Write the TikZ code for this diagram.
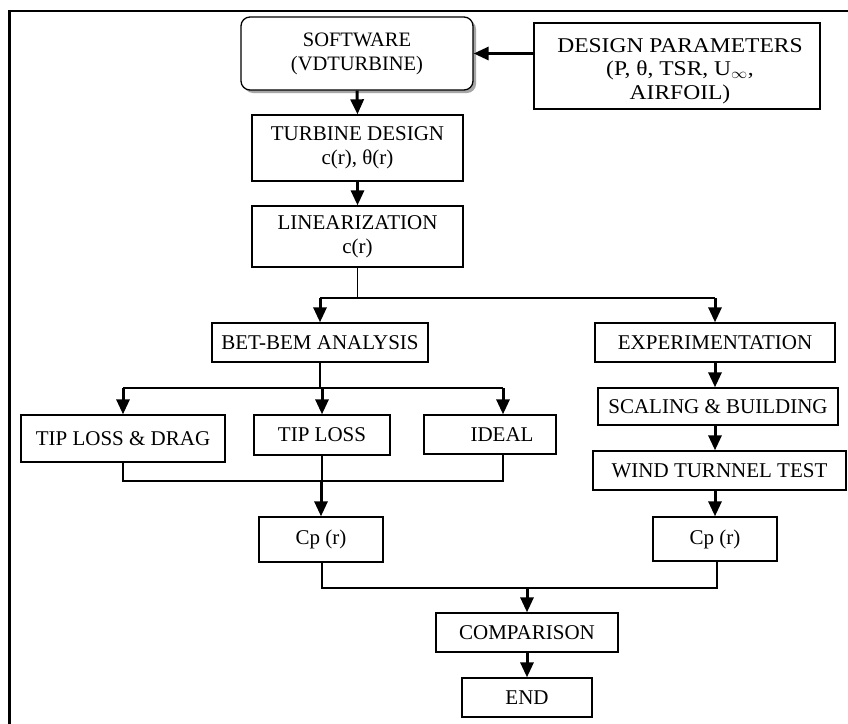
\documentclass[tikz,border=0pt]{standalone}
\usepackage{fontspec}
\setmainfont{Liberation Serif}
\usetikzlibrary{arrows.meta,shadows}
\tikzset{
  box/.style={draw=black, line width=1.3pt, rectangle, inner sep=0pt, align=center,
    font=\fontsize{21}{24}\selectfont},
  arr/.style={line width=3pt, -{Triangle[width=13pt,length=15pt]}},
  thinline/.style={line width=1.3pt},
  branchline/.style={line width=2pt},
}
\begin{document}
\begin{tikzpicture}[x=1pt,y=-1pt]
\useasboundingbox (0,0) rectangle (848,723);
\clip (0,0) rectangle (848,723);
\fill[white] (0,0) rectangle (848,723);
% frame
\draw[line width=2.5pt] (9.5,760) -- (9.5,11) -- (880,11);

% nodes
\node[box, rounded corners=9pt, minimum width=232pt, minimum height=73pt, fill=white,
      font=\fontsize{20.5}{24}\selectfont,
      drop shadow={shadow xshift=3pt, shadow yshift=-3pt, fill=gray!70, opacity=1}]
  (soft) at (357,53.5) {SOFTWARE\\(VDTURBINE)};
\node[box, minimum width=286pt, minimum height=86pt] (design) at (677,66) {};
\node[font=\fontsize{21}{23.5}\selectfont, align=center] (designtxt) at (680,71)
  {\scalebox{1.12}[1]{DESIGN PARAMETERS}\\\scalebox{1.12}[1]{(P, θ, TSR, U$_{\infty}$,}\\\scalebox{1.12}[1]{AIRFOIL)}};
\node[box, minimum width=211pt, minimum height=66pt] (turb) at (357.5,148) {TURBINE DESIGN\\c(r), θ(r)};
\node[box, minimum width=211pt, minimum height=61pt] (lin) at (357.5,236.5) {LINEARIZATION\\c(r)};
\node[box, minimum width=216pt, minimum height=39pt] (bet) at (320,342.5) {BET-BEM ANALYSIS};
\node[box, minimum width=240pt, minimum height=39pt] (exp) at (715,342.5) {EXPERIMENTATION};
\node[box, minimum width=240pt, minimum height=37pt] (scal) at (718,406.5) {SCALING \& BUILDING};
\node[box, minimum width=253pt, minimum height=39pt] (wind) at (719.5,470.5) {WIND TURNNEL TEST};
\node[box, minimum width=124pt, minimum height=44pt] (cpr) at (715,539) {Cp (r)};
\node[box, minimum width=204pt, minimum height=47pt] (tld) at (123,438.5) {TIP LOSS \& DRAG};
\node[box, minimum width=136pt, minimum height=40pt] (tl) at (322,435) {TIP LOSS};
\node[box, minimum width=132pt, minimum height=39pt, text width=132pt] (ideal) at (490,434.5) {\hspace*{24pt}IDEAL};
\node[box, minimum width=124pt, minimum height=45pt] (cpl) at (321,539.5) {Cp (r)};
\node[box, minimum width=182pt, minimum height=39pt] (comp) at (527,632.5) {COMPARISON};
\node[box, minimum width=130pt, minimum height=39pt] (end) at (527,697.5) {END};

% branch coordinates
\coordinate (br1) at (357.5,298);
\coordinate (br2) at (320,388);
\coordinate (mg1) at (321,481);
\coordinate (mg2) at (527,588);
\coordinate (idealin) at ([xshift=13pt]ideal.north);
\coordinate (idealout) at ([xshift=13pt]ideal.south);

% connectors
\draw[arr] (design.west |- soft.east) -- (soft.east);
\draw[arr] (soft.south) -- (turb.north);
\draw[arr] (turb.south) -- (lin.north);

\draw[thinline] (lin.south) -- (br1);
\draw[branchline] (bet.north |- br1) -- (exp.north |- br1);
\draw[arr] (bet.north |- br1) -- (bet.north);
\draw[arr] (exp.north |- br1) -- (exp.north);

\draw[thinline] (bet.south) -- (br2);
\draw[branchline] (tld.north |- br2) -- (idealin |- br2);
\draw[arr] (tld.north |- br2) -- (tld.north);
\draw[arr] (tl.north |- br2) -- (tl.north);
\draw[arr] (idealin |- br2) -- (idealin);

\draw[arr] (exp.south) -- (exp.south |- scal.north);
\draw[arr] (exp.south |- scal.south) -- (exp.south |- wind.north);
\draw[arr] (exp.south |- wind.south) -- (cpr.north);

\draw[thinline] (tld.south) -- (tld.south |- mg1) -- (idealout |- mg1) -- (idealout);
\draw[thinline] (tl.south) -- (tl.south |- mg1);
\draw[arr] (cpl.north |- mg1) -- (cpl.north);

\draw[thinline] ([xshift=1pt]cpl.south) -- ([xshift=1pt]cpl.south |- mg2) -- ([xshift=2pt]cpr.south |- mg2) -- ([xshift=2pt]cpr.south);
\draw[arr] (mg2) -- (comp.north);
\draw[arr] (comp.south) -- (end.north);
\end{tikzpicture}
\end{document}
